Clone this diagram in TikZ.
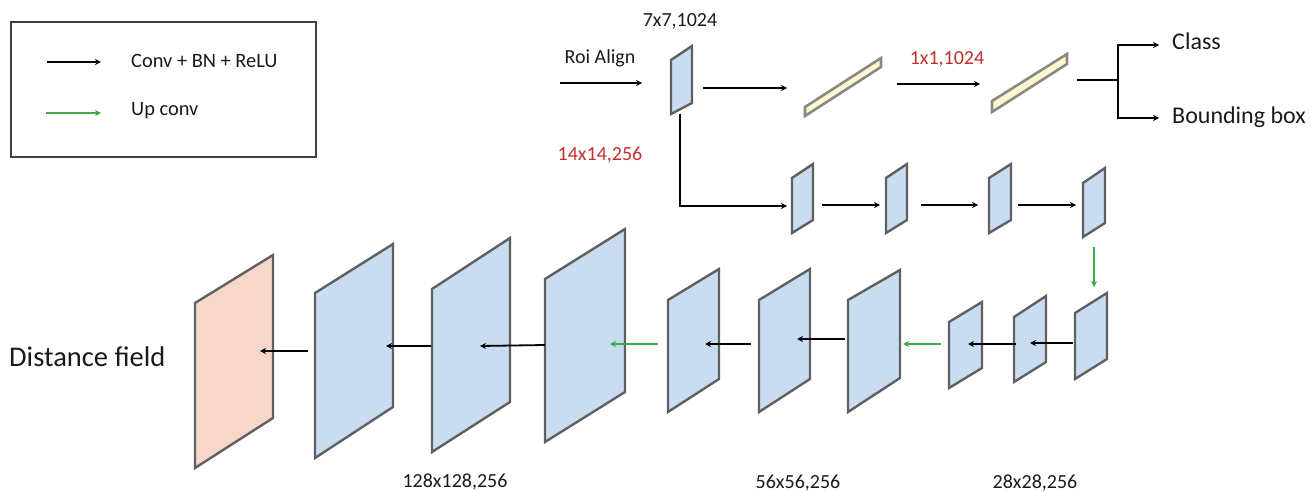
\documentclass[tikz,border=0pt]{standalone}
\usepackage{fontspec}
\setmainfont{Carlito}
\usetikzlibrary{arrows.meta}
\definecolor{mapblue}{HTML}{C9DCF2}
\definecolor{mappink}{HTML}{F7D7CA}
\definecolor{barfill}{HTML}{FFF7D2}
\definecolor{mapedge}{HTML}{606060}
\definecolor{baredge}{HTML}{8A8A84}
\definecolor{labred}{HTML}{C0312B}
\definecolor{upgreen}{HTML}{3DAA4A}
\definecolor{txt}{HTML}{1A1A1A}
\tikzset{
  mapst/.style={draw=mapedge, line width=2.4pt, line join=miter},
  barst/.style={draw=baredge, line width=2.6pt, fill=barfill},
  conv/.style={draw=black, line width=1.8pt, -{Stealth[length=6pt,width=6pt]}},
  upc/.style={draw=upgreen, line width=1.6pt, -{Stealth[length=6pt,width=6pt]}},
  lbl/.style={font=\fontsize{20}{22}\selectfont, text=txt, inner sep=0pt},
  redlbl/.style={font=\fontsize{20}{22}\selectfont, text=labred, inner sep=0pt},
}
% name, xl, xr, ytl, ybl, ytr, ybr, fill
\newcommand\fmap[8]{%
  \draw[mapst, fill=#8] (#2,#4) -- (#3,#6) -- (#3,#7) -- (#2,#5) -- cycle;
  \coordinate (#1-w) at (#2,{(#4+#5)/2});
}
\begin{document}
\begin{tikzpicture}[x=1pt, y=-1pt]
\useasboundingbox (0,0) rectangle (1311,492);

% legend
\draw[draw=black!75, line width=1.3pt] (11,22) rectangle (316,157);
\coordinate (l1a) at (47,62); \coordinate (l1b) at (101,62);
\coordinate (l2a) at (46,113); \coordinate (l2b) at (101,113);
\draw[conv, line width=1.4pt] (l1a) -- (l1b);
\draw[upc, line width=1.4pt] (l2a) -- (l2b);
\node[lbl, anchor=west, font=\fontsize{20.4}{22}\selectfont] (lt1) at (131,61) {Conv + BN + ReLU};
\node[lbl, anchor=west, font=\fontsize{20.4}{22}\selectfont] (lt2) at (131,111) {Up conv};

% top: roi align
\node[lbl] (roi) at (600,58) {Roi Align};
\node[lbl] (s7) at (680,21) {7x7,1024};
\coordinate (roia) at (560,83); \coordinate (roib) at (642,83);
\draw[conv] (roia) -- (roib);
\fmap{m0}{671}{692}{60}{114}{46}{103}{mapblue}

% bars
\draw[barst] (805,107) -- (881,58) -- (881,67) -- (805,116) -- cycle;
\draw[barst] (992,101) -- (1067,54) -- (1067,64) -- (992,112) -- cycle;
\coordinate (a1a) at (703,88); \coordinate (a1b) at (787,88);
\draw[conv] (a1a) -- (a1b);
\coordinate (a2a) at (897,84); \coordinate (a2b) at (980,84);
\draw[conv] (a2a) -- (a2b);
\node[redlbl] (s1) at (947,59) {1x1,1024};

% class / bbox branch
\coordinate (br0) at (1077,80); \coordinate (br1) at (1118,80);
\coordinate (brt) at (1118,45); \coordinate (brb) at (1118,118);
\coordinate (ct) at (1159,45); \coordinate (bt) at (1159,118);
\draw[line width=1.8pt] (br0) -- (br1);
\draw[conv] (br1) -- (brt) -- (ct);
\draw[conv] (br1) -- (brb) -- (bt);
\node[lbl, anchor=west, font=\fontsize{24}{26}\selectfont] (cls) at (1172,41) {Class};
\node[lbl, anchor=west, font=\fontsize{24}{26}\selectfont] (bbx) at (1172,117) {Bounding box};

\node[redlbl] (s14) at (600,155) {14x14,256};

% second row
\fmap{r1}{792}{813}{178}{233}{164}{220}{mapblue}
\fmap{r2}{886}{907}{178}{233}{164}{220}{mapblue}
\fmap{r3}{989}{1011}{178}{233}{164}{220}{mapblue}
\fmap{r4}{1083}{1105}{183}{237}{168}{223}{mapblue}
\coordinate (m0b) at (680,114); \coordinate (elb) at (680,206); \coordinate (r1in) at (787,206);
\draw[conv] (m0b) -- (elb) -- (r1in);
\coordinate (b1a) at (822,205); \coordinate (b1b) at (880,205);
\coordinate (b2a) at (921,205); \coordinate (b2b) at (978,205);
\coordinate (b3a) at (1018,205); \coordinate (b3b) at (1076,205);
\draw[conv] (b1a) -- (b1b);
\draw[conv] (b2a) -- (b2b);
\draw[conv] (b3a) -- (b3b);
\coordinate (ga) at (1094,247); \coordinate (gb) at (1094,287);
\draw[upc] (ga) -- (gb);

% bottom row
\fmap{p0}{195}{273}{303}{468}{255}{418}{mappink}
\fmap{p1}{315}{393}{293}{458}{244}{407}{mapblue}
\fmap{p2}{432}{510}{289}{452}{238}{402}{mapblue}
\fmap{p3}{545}{625}{279}{442}{229}{392}{mapblue}
\fmap{p4}{668}{719}{300}{412}{269}{379}{mapblue}
\fmap{p5}{759}{810}{300}{412}{269}{379}{mapblue}
\fmap{p6}{848}{900}{300}{412}{270}{378}{mapblue}
\fmap{p7}{949}{982}{322}{388}{302}{368}{mapblue}
\fmap{p8}{1014}{1046}{317}{382}{296}{362}{mapblue}
\fmap{p9}{1075}{1107}{313}{379}{293}{359}{mapblue}

\coordinate (c1a) at (308,351); \coordinate (c1b) at (260,351);
\coordinate (c2a) at (431,346); \coordinate (c2b) at (386,346);
\coordinate (c3a) at (545,345); \coordinate (c3b) at (480,346);
\coordinate (g1a) at (658,344); \coordinate (g1b) at (610,344);
\coordinate (c4a) at (751,344); \coordinate (c4b) at (705,344);
\coordinate (c5a) at (845,339); \coordinate (c5b) at (797,339);
\coordinate (g2a) at (941,344); \coordinate (g2b) at (903,344);
\coordinate (c6a) at (1016,344); \coordinate (c6b) at (968,344);
\coordinate (c7a) at (1073,343); \coordinate (c7b) at (1030,343);
\draw[conv] (c1a) -- (c1b);
\draw[conv] (c2a) -- (c2b);
\draw[conv] (c3a) -- (c3b);
\draw[upc] (g1a) -- (g1b);
\draw[conv] (c4a) -- (c4b);
\draw[conv] (c5a) -- (c5b);
\draw[upc] (g2a) -- (g2b);
\draw[conv] (c6a) -- (c6b);
\draw[conv] (c7a) -- (c7b);

\node[lbl, anchor=west, font=\fontsize{28.5}{31}\selectfont] (df) at (9,357) {Distance field};
\node[lbl] (s128) at (455,482) {128x128,256};
\node[lbl] (s56) at (798,483) {56x56,256};
\node[lbl] (s28) at (1035,483) {28x28,256};
\end{tikzpicture}
\end{document}
